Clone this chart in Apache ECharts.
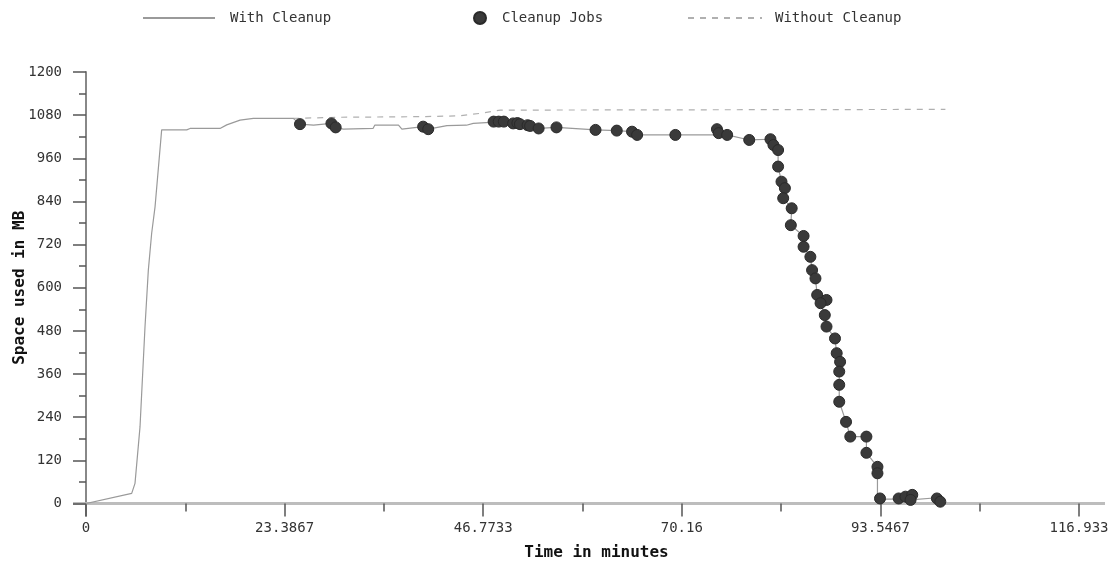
<!DOCTYPE html>
<html>
<head>
<meta charset="utf-8">
<script src="https://cdn.jsdelivr.net/npm/echarts@6/dist/echarts.min.js"></script>
<style>
html,body{margin:0;padding:0;background:#fff;}
#chart{width:1111px;height:565px;}
</style>
</head>
<body>
<div id="chart"></div>
<script>
// ---- data (minutes, MB) ----
const xTickLabels = ['0', '23.3867', '46.7733', '70.16', '93.5467', '116.933'];
const yTickLabels = ['0', '120', '240', '360', '480', '600', '720', '840', '960', '1080', '1200'];

const withCleanup = [
  [0, 0], [5.38, 28], [5.77, 56], [6.36, 213], [6.95, 492], [7.34, 649], [7.73, 751], [8.13, 825],
  [8.91, 1039], [11.86, 1039], [12.25, 1043], [15.78, 1043], [16.57, 1053], [18.14, 1066],
  [19.71, 1071], [24.4, 1071], [25.2, 1055], [26.8, 1052], [28.9, 1057], [29.4, 1046], [30.3, 1041],
  [33.8, 1043], [34.0, 1052], [36.8, 1052], [37.2, 1041], [39.7, 1048], [40.3, 1041], [42.5, 1051],
  [44.8, 1052], [45.6, 1057], [47.6, 1060], [48.0, 1062], [48.6, 1062], [49.2, 1062], [50.3, 1057],
  [50.8, 1058], [51.1, 1055], [52.0, 1052], [52.3, 1050], [53.3, 1043], [55.4, 1046], [60.0, 1039],
  [62.5, 1037], [64.3, 1034], [64.9, 1025], [69.4, 1025], [73.9, 1025], [74.3, 1041], [74.5, 1030],
  [75.5, 1025], [78.1, 1011], [80.6, 1013], [80.95, 997], [81.5, 983], [81.5, 937], [81.9, 895],
  [82.3, 877], [82.1, 849], [83.1, 821], [83.0, 774], [84.5, 744], [84.5, 714], [85.3, 686],
  [85.5, 649], [85.9, 626], [86.1, 580], [87.2, 566], [86.5, 557], [87.0, 524], [87.2, 492],
  [88.2, 459], [88.4, 418], [88.8, 394], [88.7, 367], [88.7, 330], [88.7, 283], [89.5, 227],
  [90.0, 186], [91.9, 186], [91.9, 141], [93.2, 102], [93.2, 84], [93.2, 12], [95.7, 12],
  [96.5, 19], [97.0, 28], [97.1, 10], [100.2, 16], [100.9, 2]
];

const cleanupJobs = [
  [25.2, 1055], [28.9, 1057], [29.4, 1046], [39.7, 1048], [40.3, 1041], [48.0, 1062], [48.6, 1062],
  [49.2, 1062], [50.3, 1057], [50.8, 1058], [51.1, 1055], [52.0, 1052], [52.3, 1050], [53.3, 1043],
  [55.4, 1046], [60.0, 1039], [62.5, 1037], [64.3, 1034], [64.9, 1025], [69.4, 1025], [74.3, 1041],
  [74.5, 1030], [75.5, 1025], [78.1, 1011], [80.6, 1013], [80.95, 997], [81.5, 983], [81.5, 937],
  [81.9, 895], [82.3, 877], [82.1, 849], [83.1, 821], [83.0, 774], [84.5, 744], [84.5, 714],
  [85.3, 686], [85.5, 649], [85.9, 626], [86.1, 580], [87.2, 566], [86.5, 557], [87.0, 524],
  [87.2, 492], [88.2, 459], [88.4, 418], [88.8, 394], [88.7, 367], [88.7, 330], [88.7, 283],
  [89.5, 227], [90.0, 186], [91.9, 186], [91.9, 141], [93.2, 102], [93.2, 84], [93.5, 14],
  [95.7, 14], [96.5, 19], [97.3, 24], [97.1, 10], [100.2, 14], [100.6, 5]
];

const withoutCleanup = [
  [24.4, 1071], [29.5, 1074], [40.0, 1076], [44.0, 1078], [46.4, 1085], [48.8, 1094], [101.2, 1096]
];

const xMaxVal = 116.93335;
const xInterval = xMaxVal / 5;

const font = "'DejaVu Sans Mono', monospace";
const chart = echarts.init(document.getElementById('chart'));

const hiddenSymbol = { opacity: 0, borderWidth: 0 };

chart.setOption({
  animation: false,
  backgroundColor: '#fff',
  grid: { left: 86, right: 32, top: 72, bottom: 61.5, containLabel: false, outerBoundsMode: 'none' },
  legend: [
    { left: 137, top: 6, itemWidth: 72, itemHeight: 14, data: ['With Cleanup'],
      itemStyle: hiddenSymbol,
      textStyle: { fontFamily: font, fontSize: 14, color: '#333', padding: [0, 0, 0, 10] } },
    { left: 468, top: 6, itemWidth: 14, itemHeight: 12, data: ['Cleanup Jobs'],
      textStyle: { fontFamily: font, fontSize: 14, color: '#333', padding: [0, 0, 0, 10] } },
    { left: 682, top: 6, itemWidth: 74, itemHeight: 14, data: ['Without Cleanup'],
      itemStyle: hiddenSymbol,
      textStyle: { fontFamily: font, fontSize: 14, color: '#333', padding: [0, 0, 0, 8] } }
  ],
  xAxis: {
    type: 'value', min: 0, max: xMaxVal, interval: xInterval,
    name: 'Time in minutes', nameLocation: 'middle', nameGap: 41,
    nameTextStyle: { fontFamily: font, fontSize: 16, fontWeight: 'bold', color: '#111', padding: [0, 0, 0, 28] },
    axisLine: { show: true, lineStyle: { color: '#bdbdbd', width: 3 } },
    axisTick: { show: true, length: 13, lineStyle: { color: '#555', width: 1.5 } },
    minorTick: { show: true, splitNumber: 2, length: 8, lineStyle: { color: '#555', width: 1.5 } },
    splitLine: { show: false },
    axisLabel: { margin: 18, fontFamily: font, fontSize: 14, color: '#333',
      formatter: (v) => xTickLabels[Math.round(v / xInterval)] },
  },
  yAxis: {
    type: 'value', min: 0, max: 1200, interval: 120,
    name: 'Space used in MB', nameLocation: 'middle', nameGap: 58, nameRotate: 90,
    nameMoveOverlap: false,
    nameTextStyle: { fontFamily: font, fontSize: 16, fontWeight: 'bold', color: '#111' },
    axisLine: { show: true, lineStyle: { color: '#888', width: 2 } },
    axisTick: { show: true, length: 13, lineStyle: { color: '#555', width: 1.5 } },
    minorTick: { show: true, splitNumber: 2, length: 7, lineStyle: { color: '#555', width: 1.5 } },
    splitLine: { show: false },
    axisLabel: { margin: 24, fontFamily: font, fontSize: 14, color: '#333',
      formatter: (v) => yTickLabels[Math.round(v / 120)] },
  },
  series: [
    { name: 'With Cleanup', type: 'line', data: withCleanup, symbol: 'none', z: 2,
      lineStyle: { color: '#9a9a9a', width: 1.2 }, itemStyle: { color: '#9a9a9a' } },
    { name: 'Cleanup Jobs', type: 'scatter', data: cleanupJobs, symbol: 'circle', symbolSize: 11, z: 4,
      itemStyle: { color: '#3a3a3a', borderColor: '#2a2a2a', borderWidth: 1, opacity: 1 } },
    { name: 'Without Cleanup', type: 'line', data: withoutCleanup, symbol: 'none', z: 1,
      lineStyle: { color: '#b0b0b0', width: 1.2, type: [6, 6] }, itemStyle: { color: '#b0b0b0' } }
  ]
});

// axis line extensions beyond the plotted range (as in the reference)
const p0 = chart.convertToPixel({ gridIndex: 0 }, [0, 0]);
const pMax = chart.convertToPixel({ gridIndex: 0 }, [xMaxVal, 0]);
chart.setOption({
  graphic: [
    { type: 'line', shape: { x1: p0[0] - 13, y1: p0[1], x2: p0[0], y2: p0[1] },
      style: { stroke: '#bdbdbd', lineWidth: 3 }, z: 0 },
    { type: 'line', shape: { x1: pMax[0], y1: pMax[1], x2: pMax[0] + 26, y2: pMax[1] },
      style: { stroke: '#bdbdbd', lineWidth: 3 }, z: 0 },
    { type: 'line', shape: { x1: p0[0], y1: p0[1], x2: p0[0], y2: p0[1] + 13 },
      style: { stroke: '#888', lineWidth: 2 }, z: 0 }
  ]
});
</script>
</body>
</html>
